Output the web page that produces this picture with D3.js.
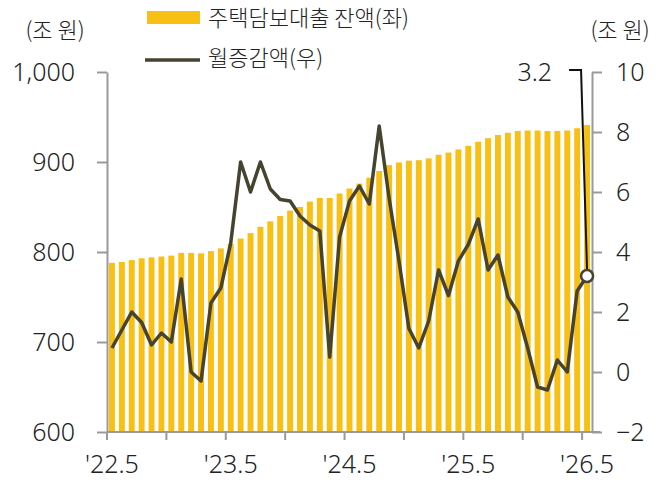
<!DOCTYPE html>
<html>
<head>
<meta charset="utf-8">
<script src="https://cdn.jsdelivr.net/npm/d3@7"></script>
<style>
body{margin:0;background:#fff;}
svg{display:block;}
.axis text{font-family:"Noto Sans",sans-serif;font-size:25px;font-weight:300;fill:#222;}
.axis path,.axis line{stroke:#9a9a9a;stroke-width:2;}
.kr{font-family:"Noto Sans CJK KR","Noto Sans",sans-serif;font-size:22px;font-weight:300;fill:#222;}
</style>
</head>
<body>
<svg id="chart"></svg>
<script>
// months '22.5 ~ '26.5
var months = ["22.5","22.6","22.7","22.8","22.9","22.10","22.11","22.12",
  "23.1","23.2","23.3","23.4","23.5","23.6","23.7","23.8","23.9","23.10","23.11","23.12",
  "24.1","24.2","24.3","24.4","24.5","24.6","24.7","24.8","24.9","24.10","24.11","24.12",
  "25.1","25.2","25.3","25.4","25.5","25.6","25.7","25.8","25.9","25.10","25.11","25.12",
  "26.1","26.2","26.3","26.4","26.5"]

// 주택담보대출 잔액 (조 원, 좌)
var balance = [788,789,791,793,794,795,796,799,799,798.5,801,804,
  809,815,821,828,834,840,846,850,856,860,860,865,
  870.5,876,882.5,890,896.5,899.5,901.5,902,904,908,910.5,914,
  918,922.5,926.5,930,932.5,934.5,935,935,934.5,934.5,935,937.5,941]

// 월증감액 (조 원, 우)
var change = [0.8,1.4,2.0,1.65,0.9,1.3,1.0,3.1,0.0,-0.3,2.3,2.8,
  4.3,7.0,6.0,7.0,6.1,5.75,5.7,5.2,4.9,4.7,0.5,4.5,
  5.7,6.2,5.6,8.2,5.8,3.7,1.45,0.8,1.7,3.4,2.55,3.7,
  4.25,5.1,3.4,3.9,2.5,2.0,0.8,-0.5,-0.6,0.4,0.0,2.7,3.2]

var leftTicks = [600,700,800,900,1000]
var rightTicks = [-2,0,2,4,6,8,10]
var tickMonths = ["22.5","22.11","23.5","23.11","24.5","24.11","25.5","25.11","26.5"]
var labelMonths = ["22.5","23.5","24.5","25.5","26.5"]

var screen = {width:659,height:484}
var plot = {left:107,right:592,top:72,bottom:432}
var barColor = "#F8BF14"
var lineColor = "#46432F"

var svg = d3.select("#chart")
  .attr("width",screen.width)
  .attr("height",screen.height)

var xScale = d3.scaleBand()
  .domain(months)
  .range([plot.left,plot.right])
  .paddingInner(0.4)
  .paddingOuter(0.2)

var yLeft = d3.scaleLinear().domain([600,1000]).range([plot.bottom,plot.top])
var yRight = d3.scaleLinear().domain([-2,10]).range([plot.bottom,plot.top])

var step = xScale.step()
var center = function(m){ return xScale(m)+xScale.bandwidth()/2 }

// bars
svg.append("g")
  .selectAll("rect")
  .data(months)
  .enter()
  .append("rect")
  .attr("x",function(m){ return xScale(m) })
  .attr("y",function(m,i){ return yLeft(balance[i]) })
  .attr("width",xScale.bandwidth())
  .attr("height",function(m,i){ return plot.bottom-yLeft(balance[i]) })
  .attr("fill",barColor)

// axes
var leftAxis = d3.axisLeft(yLeft).tickValues(leftTicks)
  .tickFormat(d3.format(",")).tickSize(10).tickSizeOuter(0).tickPadding(22)
svg.append("g").attr("class","axis")
  .attr("transform","translate("+plot.left+",0)")
  .call(leftAxis)

var rightAxis = d3.axisRight(yRight).tickValues(rightTicks)
  .tickFormat(function(d){ return d<0 ? "\u2212"+Math.abs(d) : d })
  .tickSize(10).tickSizeOuter(0).tickPadding(14)
svg.append("g").attr("class","axis")
  .attr("transform","translate("+plot.right+",0)")
  .call(rightAxis)

// bottom ticks at band starts
var xTickAxis = d3.axisBottom(xScale).tickValues(tickMonths)
  .tickFormat("").tickSize(8).tickSizeOuter(0)
var gx = svg.append("g").attr("class","axis")
  .attr("transform","translate("+(-step/2)+","+plot.bottom+")")
  .call(xTickAxis)
gx.select(".domain").remove()
svg.append("line")
  .attr("x1",plot.left).attr("x2",plot.right+8)
  .attr("y1",plot.bottom).attr("y2",plot.bottom)
  .attr("stroke","#9a9a9a").attr("stroke-width",2)

var xLabelAxis = d3.axisBottom(xScale).tickValues(labelMonths)
  .tickFormat(function(m){ return "'"+m }).tickSize(0).tickPadding(23)
var gl = svg.append("g").attr("class","axis")
  .attr("transform","translate(0,"+plot.bottom+")")
  .call(xLabelAxis)
gl.select(".domain").remove()

// line
var line = d3.line()
  .x(function(d,i){ return center(months[i]) })
  .y(function(d){ return yRight(d) })
svg.append("path")
  .datum(change)
  .attr("d",line)
  .attr("fill","none")
  .attr("stroke",lineColor)
  .attr("stroke-width",3.5)
  .attr("stroke-linejoin","round")

// last value callout
var last = change.length-1
var lx = center(months[last]), ly = yRight(change[last])
svg.append("polyline")
  .attr("points",[[lx,ly-6],[lx-6,70],[lx-18,70]].map(function(p){return p.join(",")}).join(" "))
  .attr("fill","none").attr("stroke","#111").attr("stroke-width",2)
svg.append("circle")
  .attr("cx",lx).attr("cy",ly).attr("r",6)
  .attr("fill","#fff").attr("stroke",lineColor).attr("stroke-width",2.5)
svg.append("text")
  .text(change[last].toFixed(1))
  .attr("x",lx-35).attr("y",72)
  .attr("dy","0.35em")
  .attr("text-anchor","end")
  .style("font-family","\"Noto Sans\",sans-serif")
  .style("font-size","25px")
  .style("font-weight","300")
  .attr("fill","#222")

// unit labels
svg.append("text").attr("class","kr").text("(조 원)")
  .attr("x",55).attr("y",38).attr("text-anchor","middle")
svg.append("text").attr("class","kr").text("(조 원)")
  .attr("x",620).attr("y",38).attr("text-anchor","middle")

// legend
var legend = svg.append("g")
legend.append("rect")
  .attr("x",147).attr("y",11).attr("width",53).attr("height",13)
  .attr("fill",barColor)
legend.append("text").attr("class","kr").text("주택담보대출 잔액(좌)")
  .attr("x",208).attr("y",18).attr("dy","0.35em")
legend.append("line")
  .attr("x1",145).attr("x2",200).attr("y1",60).attr("y2",60)
  .attr("stroke",lineColor).attr("stroke-width",3.5)
legend.append("text").attr("class","kr").text("월증감액(우)")
  .attr("x",208).attr("y",58).attr("dy","0.35em")
</script>
</body>
</html>
